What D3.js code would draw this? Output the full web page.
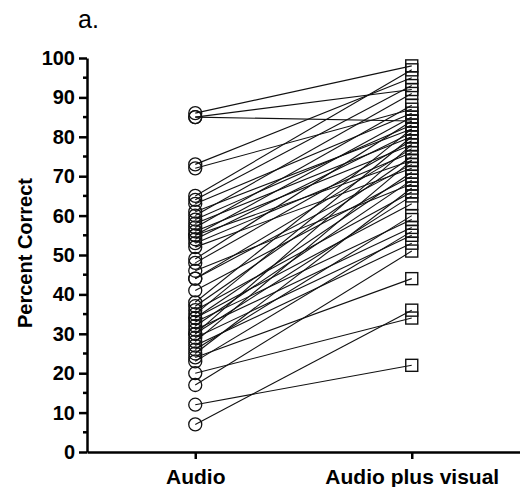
<!DOCTYPE html>
<html>
<head>
<meta charset="utf-8">
<script src="https://cdn.jsdelivr.net/npm/d3@7"></script>
<style>
  body { margin: 0; background: #fff; }
  svg text { font-family: "Liberation Sans", Arial, sans-serif; }
</style>
</head>
<body>
<div id="chart"></div>
<script>
// conditions on the x axis
const conditions = ['Audio', 'Audio plus visual'];

// percent correct per participant, audio only
const audioScores = [86, 85, 85, 73, 72, 65, 64, 63, 61, 60, 59, 58, 57, 56, 55, 55, 54, 53, 52,
  49, 48, 46, 44, 44, 41, 38, 37, 36, 35, 34, 34, 33, 32, 31, 30, 30, 29, 28, 27, 26, 25, 24,
  23, 20, 17, 12, 7];

// percent correct per participant, audio plus visual (same order)
const avScores = [98, 92, 84, 95, 87, 97, 93, 86, 82, 91, 83, 80, 88, 78, 85, 74, 81, 76, 72,
  84, 79, 68, 77, 73, 70, 82, 75, 66, 80, 63, 71, 59, 69, 57, 78, 65, 55, 74, 53, 60, 67, 44,
  56, 34, 51, 22, 36];

const yTicks = [0, 10, 20, 30, 40, 50, 60, 70, 80, 90, 100];

const width = 520, height = 487;
const margin = {top: 58, right: 0, bottom: 35, left: 87};

const svg = d3.select('#chart').append('svg')
  .attr('width', width)
  .attr('height', height);

const xScale = d3.scalePoint()
  .domain(conditions)
  .range([margin.left, width - margin.right])
  .padding(0.5);

const yScale = d3.scaleLinear()
  .domain([0, 100])
  .range([height - margin.bottom, margin.top]);

const pairs = audioScores.map((a, i) => ({audio: a, av: avScores[i]}));

// connecting lines
svg.append('g')
  .selectAll('line')
  .data(pairs)
  .join('line')
    .attr('x1', xScale(conditions[0]))
    .attr('x2', xScale(conditions[1]))
    .attr('y1', d => yScale(d.audio))
    .attr('y2', d => yScale(d.av))
    .attr('stroke', '#111')
    .attr('stroke-width', 1.1);

// circles for audio
svg.append('g')
  .selectAll('circle')
  .data(pairs)
  .join('circle')
    .attr('cx', xScale(conditions[0]))
    .attr('cy', d => yScale(d.audio))
    .attr('r', 6.5)
    .attr('fill', 'none')
    .attr('stroke', '#111')
    .attr('stroke-width', 1.3);

// squares for audio plus visual
const sq = 12;
svg.append('g')
  .selectAll('rect')
  .data(pairs)
  .join('rect')
    .attr('x', xScale(conditions[1]) - sq / 2)
    .attr('y', d => yScale(d.av) - sq / 2)
    .attr('width', sq)
    .attr('height', sq)
    .attr('fill', 'none')
    .attr('stroke', '#111')
    .attr('stroke-width', 1.4);

// y axis: major ticks every 10, minor every 5
const yAxisG = svg.append('g')
  .attr('transform', `translate(${margin.left},0)`);

yAxisG.call(d3.axisLeft(yScale).tickValues(yTicks).tickSize(8).tickPadding(4).tickSizeOuter(0))
  .call(g => g.select('.domain').attr('stroke-width', 2.5).attr('stroke', '#000'))
  .call(g => g.selectAll('.tick line').attr('stroke-width', 2.5).attr('stroke', '#000'))
  .call(g => g.selectAll('.tick text')
    .attr('font-size', 20).attr('font-weight', 'bold').attr('fill', '#000')
    .attr('font-family', '"Liberation Sans", Arial, sans-serif'));

const minorTicks = yTicks.slice(0, -1).map(t => t + 5);
yAxisG.append('g')
  .selectAll('line')
  .data(minorTicks)
  .join('line')
    .attr('x1', -4)
    .attr('x2', 0)
    .attr('y1', d => yScale(d))
    .attr('y2', d => yScale(d))
    .attr('stroke', '#000')
    .attr('stroke-width', 2.5);

// x axis
svg.append('g')
  .attr('transform', `translate(0,${height - margin.bottom})`)
  .call(d3.axisBottom(xScale).tickSize(7).tickPadding(10).tickSizeOuter(0))
  .call(g => g.select('.domain').attr('stroke-width', 2.5).attr('stroke', '#000'))
  .call(g => g.selectAll('.tick line').attr('stroke-width', 2.5).attr('stroke', '#000'))
  .call(g => g.selectAll('.tick text')
    .attr('font-size', 21).attr('font-weight', 'bold').attr('fill', '#000')
    .attr('font-family', '"Liberation Sans", Arial, sans-serif'));

// y axis title
svg.append('text')
  .attr('transform', `translate(32,${yScale(50) - 2}) rotate(-90)`)
  .attr('text-anchor', 'middle')
  .attr('font-size', 20)
  .attr('font-weight', 'bold')
  .text('Percent Correct');

// panel label
svg.append('text')
  .attr('x', 78)
  .attr('y', 28)
  .attr('font-size', 25)
  .text('a.');
</script>
</body>
</html>
